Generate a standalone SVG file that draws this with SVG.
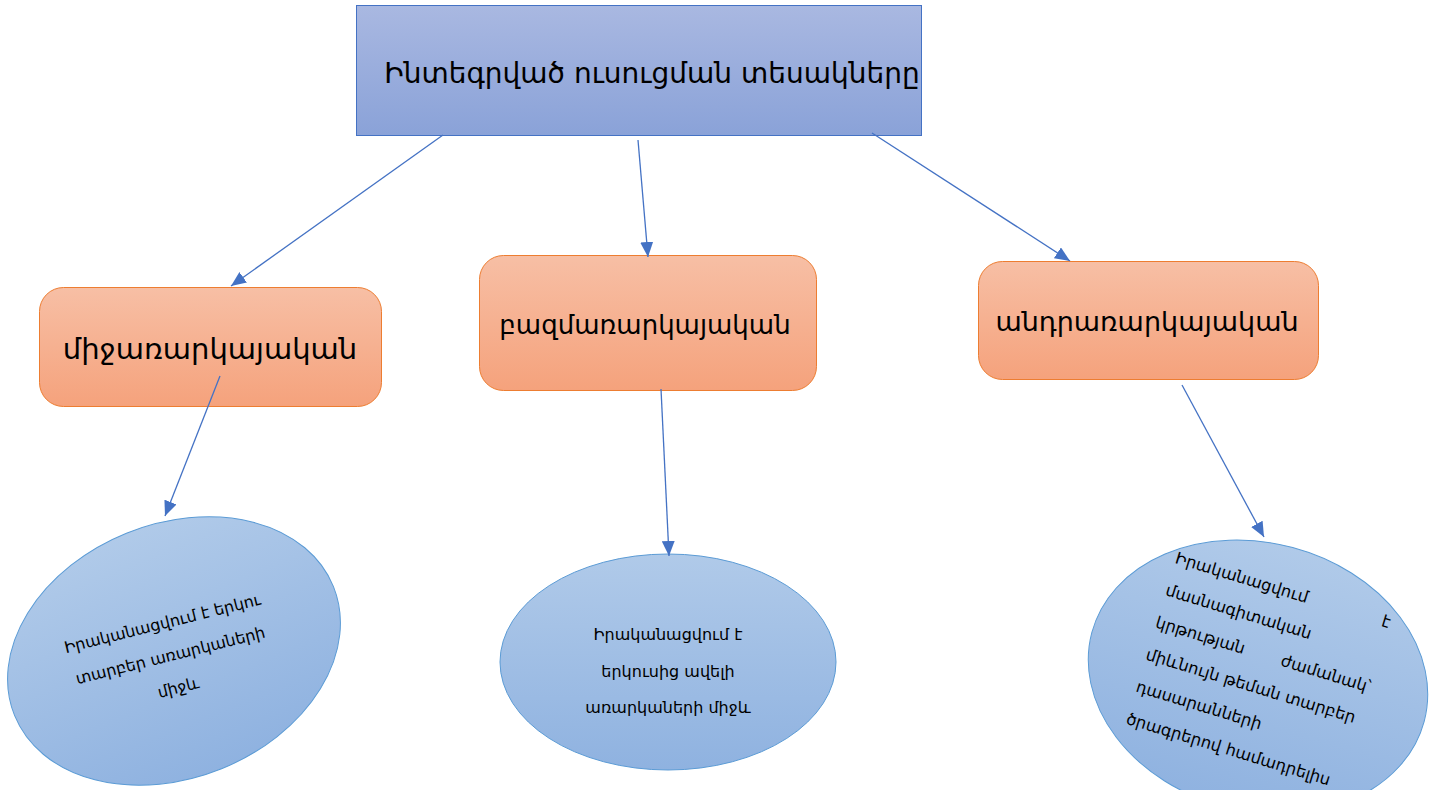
<svg xmlns="http://www.w3.org/2000/svg" width="1433" height="790" viewBox="0 0 1433 790">
  <style>
    .t { font-family: "DejaVu Sans", "Noto Sans", sans-serif; fill: #000; }
    .title { font-size: 28px; text-anchor: middle; }
    .box { font-size: 26px; text-anchor: middle; }
    .el { font-size: 16px; text-anchor: middle; }
    .elr { font-size: 16.3px; }
    .conn line { stroke: #4472c4; stroke-width: 1.3; fill: none; marker-end: url(#arr); }
  </style>
  <defs>
    <linearGradient id="gTop" x1="0" y1="0" x2="0" y2="1">
      <stop offset="0" stop-color="#a9b8e1"/>
      <stop offset="1" stop-color="#8aa2d8"/>
    </linearGradient>
    <linearGradient id="gOr" x1="0" y1="0" x2="0" y2="1">
      <stop offset="0" stop-color="#f7bfa5"/>
      <stop offset="1" stop-color="#f5a27c"/>
    </linearGradient>
    <linearGradient id="gEl" x1="0" y1="0" x2="0" y2="1">
      <stop offset="0" stop-color="#b0cae9"/>
      <stop offset="1" stop-color="#8fb2e0"/>
    </linearGradient>
    <marker id="arr" markerUnits="userSpaceOnUse" markerWidth="15" markerHeight="13" viewBox="0 0 15 13" refX="15" refY="6.5" orient="auto">
      <path d="M0,0 L15,6.5 L0,13 z" fill="#4472c4"/>
    </marker>
  </defs>

  <g id="root">
    <rect x="356.5" y="5.5" width="565" height="130" fill="url(#gTop)" stroke="#4472c4" stroke-width="1"/>
    <text class="t title" x="652" y="83">Ինտեգրված ուսուցման տեսակները</text>
  </g>

  <g id="box1">
    <rect x="39.5" y="287.5" width="342" height="119" rx="24" fill="url(#gOr)" stroke="#ed7d31" stroke-width="1"/>
    <text class="t box" x="210" y="359" style="font-size:29px">միջառարկայական</text>
  </g>
  <g id="box2">
    <rect x="479.5" y="255.5" width="337" height="135" rx="24" fill="url(#gOr)" stroke="#ed7d31" stroke-width="1"/>
    <text class="t box" x="645" y="334">բազմառարկայական</text>
  </g>
  <g id="box3">
    <rect x="978.5" y="261.5" width="340" height="118" rx="24" fill="url(#gOr)" stroke="#ed7d31" stroke-width="1"/>
    <text class="t box" x="1147" y="331" style="font-size:27px">անդրառարկայական</text>
  </g>

  <g id="ell1">
    <ellipse cx="174" cy="651" rx="172" ry="127" transform="rotate(-22 174 651)" fill="url(#gEl)" stroke="#5b9bd5" stroke-width="1"/>
    <g transform="translate(170 654) rotate(-14)">
      <text class="t el" x="0" y="-26">Իրականացվում է երկու</text>
      <text class="t el" x="0" y="7">տարբեր առարկաների</text>
      <text class="t el" x="0" y="40">միջև</text>
    </g>
  </g>

  <g id="ell2">
    <ellipse cx="668" cy="662" rx="168" ry="108" fill="url(#gEl)" stroke="#5b9bd5" stroke-width="1"/>
    <text class="t el" x="668" y="640">Իրականացվում է</text>
    <text class="t el" x="668" y="677">երկուսից ավելի</text>
    <text class="t el" x="668" y="713">առարկաների միջև</text>
  </g>

  <g id="ell3">
    <ellipse cx="1258" cy="677" rx="172" ry="134" transform="rotate(15 1258 677)" fill="url(#gEl)" stroke="#5b9bd5" stroke-width="1"/>
    <g transform="translate(1176 557) rotate(17)">
      <text class="t elr" x="0" y="6">Իրականացվում</text>
      <text class="t elr" x="224" y="6" text-anchor="end">է</text>
      <text class="t elr" x="0" y="39.6">մասնագիտական</text>
      <text class="t elr" x="0" y="73.2">կրթության</text>
      <text class="t elr" x="224" y="73.2" text-anchor="end">ժամանակ՝</text>
      <text class="t elr" x="0" y="106.8">միևնույն թեման տարբեր</text>
      <text class="t elr" x="0" y="140.4">դասարանների</text>
      <text class="t elr" x="0" y="174">ծրագրերով համադրելիս</text>
    </g>
  </g>

  <g id="conn" class="conn">
    <line x1="443" y1="135" x2="231" y2="286"/>
    <line x1="638" y1="140" x2="648" y2="257"/>
    <line x1="872" y1="133" x2="1070" y2="261"/>
    <line x1="220" y1="376" x2="165" y2="516"/>
    <line x1="661" y1="389" x2="669" y2="556"/>
    <line x1="1182" y1="385" x2="1264" y2="537"/>
  </g>
</svg>
